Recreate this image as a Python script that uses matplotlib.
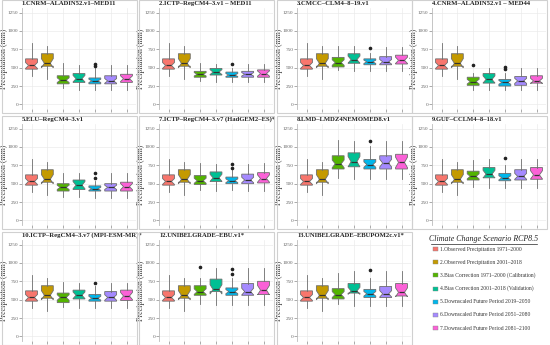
import matplotlib
matplotlib.use('Agg')
import matplotlib.pyplot as plt
from matplotlib.patches import Rectangle
import numpy as np

titles = ["1.CNRM–ALADIN52.v1–MED11", "2.ICTP–RegCM4–3.v1 – MED11", "3.CMCC–CLM4–8–19.v1",
          "4.CNRM–ALADIN52.v1 – MED44", "5.ELU–RegCM4–3.v1", "7.ICTP–RegCM4–3.v7 (HadGEM2–ES)*",
          "8.LMD–LMDZ4NEMOMED8.v1", "9.GUF–CCLM4–8–18.v1", "10.ICTP–RegCM4–3.v7 (MPI-ESM-MR)*",
          "12.UNIBELGRADE–EBU.v1*", "13.UNIBELGRADE–EBUPOM2c.v1*"]

legend_labels = ["1.Observed Precipitation 1971–2000", "2.Observed Precipitation 2001–2018",
                 "3.Bias Correction 1971–2000 (Calibration)", "4.Bias Correction 2001–2018 (Validation)",
                 "5.Downscaled Future Period 2019–2050", "6.Downscaled Future Period 2051–2080",
                 "7.Downscaled Future Period 2081–2100"]
n_years = [30, 18, 30, 18, 32, 30, 20]
colors = ["#F8766D", "#C49A00", "#53B400", "#00C094", "#00B6EB", "#A58AFF", "#FB61D7"]

med = [[530, 560, 330, 350, 320, 320, 350],
       [530, 560, 410, 440, 400, 410, 420],
       [530, 560, 570, 610, 580, 580, 600],
       [530, 560, 310, 340, 300, 320, 320],
       [530, 560, 450, 480, 430, 450, 460],
       [530, 560, 540, 580, 540, 550, 570],
       [530, 560, 770, 800, 760, 780, 790],
       [530, 560, 600, 630, 580, 600, 620],
       [530, 560, 530, 560, 520, 530, 550],
       [530, 560, 610, 640, 610, 610, 630],
       [530, 560, 570, 620, 580, 580, 600]]
q1 = [[480, 520, 280, 300, 280, 280, 300],
      [480, 520, 370, 400, 370, 370, 370],
      [480, 520, 510, 560, 540, 540, 550],
      [480, 520, 260, 290, 250, 260, 290],
      [480, 520, 400, 420, 400, 400, 400],
      [480, 520, 490, 530, 500, 500, 510],
      [480, 520, 700, 730, 700, 700, 700],
      [480, 520, 550, 580, 540, 550, 560],
      [480, 520, 460, 510, 480, 480, 490],
      [480, 520, 560, 610, 560, 560, 570],
      [480, 520, 510, 590, 530, 530, 550]]
q3 = [[620, 690, 390, 420, 360, 390, 410],
      [620, 690, 450, 490, 440, 450, 470],
      [620, 690, 640, 690, 620, 650, 670],
      [620, 690, 370, 420, 340, 380, 390],
      [620, 690, 500, 550, 470, 500, 520],
      [620, 690, 610, 660, 590, 630, 650],
      [620, 690, 880, 920, 830, 880, 900],
      [620, 690, 670, 720, 640, 690, 720],
      [620, 690, 590, 630, 570, 610, 630],
      [620, 690, 690, 780, 660, 720, 750],
      [620, 690, 650, 720, 640, 680, 720]]
whis_lo = [[380, 350, 220, 190, 190, 190, 200],
           [380, 350, 320, 300, 300, 300, 310],
           [380, 350, 470, 460, 460, 460, 460],
           [380, 350, 190, 190, 190, 190, 200],
           [380, 350, 320, 320, 310, 310, 310],
           [380, 350, 420, 400, 420, 400, 400],
           [380, 350, 580, 560, 570, 560, 560],
           [380, 350, 460, 440, 440, 440, 440],
           [380, 350, 400, 380, 380, 380, 380],
           [380, 350, 440, 430, 430, 430, 430],
           [380, 350, 440, 420, 420, 420, 420]]
whis_hi = [[830, 800, 570, 540, 490, 540, 540],
           [830, 800, 570, 550, 500, 550, 550],
           [830, 800, 790, 790, 700, 780, 780],
           [830, 800, 430, 500, 430, 500, 500],
           [830, 800, 640, 640, 540, 640, 640],
           [830, 800, 780, 770, 680, 770, 780],
           [830, 800, 1100, 1080, 1010, 1080, 1080],
           [830, 800, 820, 840, 750, 840, 840],
           [830, 800, 740, 730, 680, 730, 730],
           [830, 800, 800, 930, 800, 930, 930],
           [830, 800, 860, 890, 800, 890, 890]]
outliers = [{4: [520, 550]}, {4: [550]}, {4: [770]}, {2: [530], 4: [480, 510]},
            {4: [580, 650]}, {4: [720, 770]}, {4: [1080]}, {4: [850]}, {4: [730]},
            {2: [950], 4: [850, 920]}, {4: [900]}]

yticks = [0, 250, 500, 750, 1000, 1250]

W, H = 550, 345
fig = plt.figure(figsize=(W / 100, H / 100), dpi=100)
serif = "Liberation Serif"

col_left = [22, 159, 297, 432]
ax_w = 114
row_top = [8, 124, 240]
ax_h = 101

cells = [(r, c) for r in range(3) for c in range(4)]
panel_cells = [cells[i] for i in range(11)]

for p, (r, c) in enumerate(panel_cells):
    x0, y0 = col_left[c], row_top[r]
    fig.patches.append(Rectangle(((x0 - 20) / W, 1 - (y0 + ax_h + 4) / H), (ax_w + 21) / W,
                                 (ax_h + 12) / H, transform=fig.transFigure, fill=False,
                                 edgecolor="#d0d0d0", linewidth=0.8))
    ax = fig.add_axes([x0 / W, 1 - (y0 + ax_h) / H, ax_w / W, ax_h / H])
    stats = []
    for i in range(7):
        iqr = q3[p][i] - q1[p][i]
        half = 1.58 * iqr / np.sqrt(n_years[i])
        stats.append(dict(med=med[p][i], q1=q1[p][i], q3=q3[p][i],
                          whislo=whis_lo[p][i], whishi=whis_hi[p][i],
                          cilo=med[p][i] - half, cihi=med[p][i] + half,
                          fliers=outliers[p].get(i, [])))
    bp = ax.bxp(stats, positions=range(1, 8), widths=0.75, shownotches=True,
                showcaps=False, patch_artist=True,
                boxprops=dict(edgecolor="#6e6e6e", linewidth=0.6),
                whiskerprops=dict(color="#6e6e6e", linewidth=0.6),
                medianprops=dict(color="#333333", linewidth=0.9),
                flierprops=dict(marker="o", markersize=1.6, markerfacecolor="#222222",
                                markeredgecolor="#222222"))
    for patch, col in zip(bp["boxes"], colors):
        patch.set_facecolor(col)
    ax.set_xlim(0.4, 7.6)
    ax.set_ylim(-62.5, 1312.5)
    ax.set_yticks(yticks)
    ax.set_xticks(range(1, 8))
    ax.set_xticklabels([])
    ax.grid(True, color="#ebebeb", linewidth=0.5)
    ax.set_axisbelow(True)
    for s in ["top", "right", "bottom"]:
        ax.spines[s].set_visible(False)
    ax.spines["left"].set_color("#bbbbbb")
    ax.spines["left"].set_linewidth(0.6)
    ax.tick_params(axis="both", length=2, width=0.5, color="#888888", labelsize=3.8,
                   labelcolor="#666666", pad=0.6)
    for lab in ax.get_yticklabels():
        lab.set_fontfamily(serif)
    ax.set_ylabel("Precipitation (mm)", fontsize=5.8, family=serif, color="#333333")
    ax.yaxis.set_label_coords(-14.0 / ax_w, 0.5)
    ax.set_title(titles[p], fontsize=4.8, family=serif, fontweight="bold", loc="left",
                 pad=2.5, color="#222222")

# legend cell
lx = 433 / W
fig.text(484 / W, 1 - 239 / H, "Climate Change Scenario RCP8.5", fontsize=5.7, family=serif,
         style="italic", ha="center", va="center", color="#222222")
fig.add_artist(plt.Line2D([431 / W, 537 / W], [1 - 243.5 / H, 1 - 243.5 / H], color="#222222",
                          linewidth=0.5))
for i, (lab, col) in enumerate(zip(legend_labels, colors)):
    y = 1 - (249 + 13.2 * i) / H
    fig.patches.append(Rectangle((lx, y - 2 / H), 5 / W, 4 / H, transform=fig.transFigure,
                                 facecolor=col, edgecolor="#888888", linewidth=0.3))
    fig.text(440 / W, y, lab, fontsize=4.0, family=serif, va="center", ha="left",
             color="#333333")

fig.savefig("out.png", dpi=100)
